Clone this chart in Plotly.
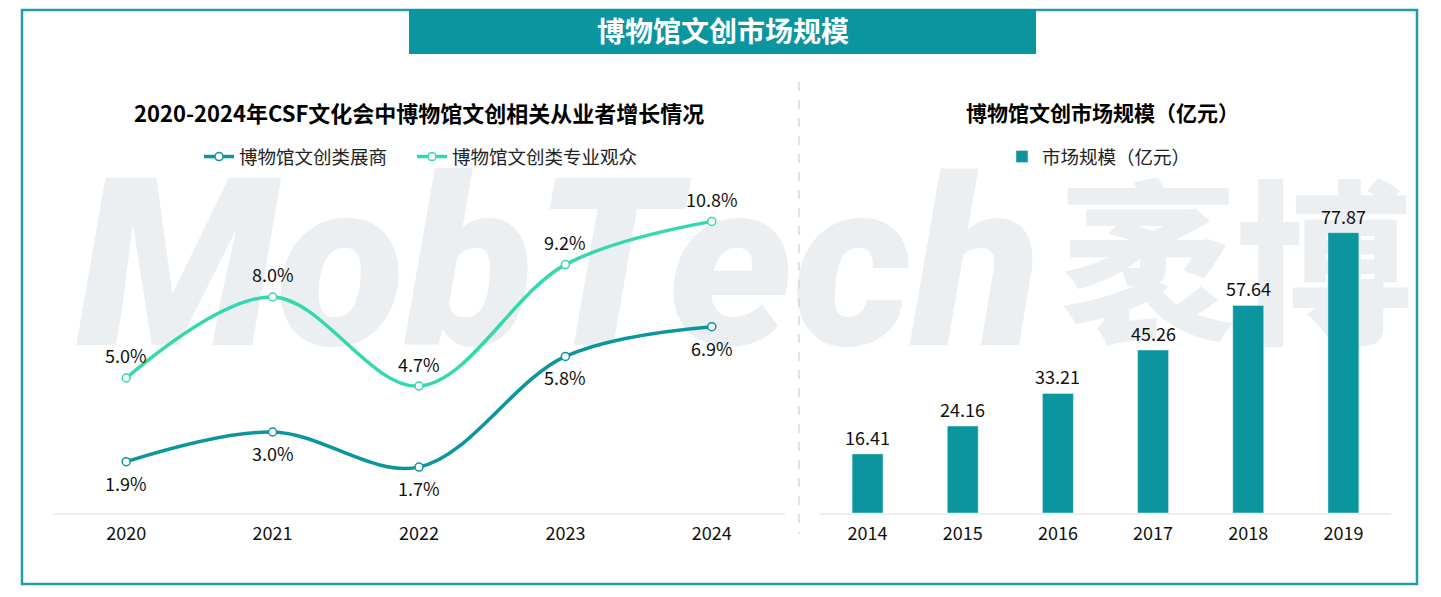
import plotly.graph_objects as go

W = 1441
H = 597

years_left = ["2020", "2021", "2022", "2023", "2024"]
exhibitors = [1.9, 3.0, 1.7, 5.8, 6.9]
visitors = [5.0, 8.0, 4.7, 9.2, 10.8]

years_right = ["2014", "2015", "2016", "2017", "2018", "2019"]
market_size = [16.41, 24.16, 33.21, 45.26, 57.64, 77.87]

TEAL = "#0b959e"
GREEN = "#33d9ae"
FONT = "Noto Sans CJK SC"
TEXT = "#111111"


def px(x):
    return x / W


def py(y):
    return 1 - y / H


fig = go.Figure()

# watermark sits on the first subplot so the charts are drawn over it
fig.add_trace(go.Scatter(
    x=[76], y=[286], mode="text", text=["MobTech"], textposition="middle right",
    textfont=dict(family="Roboto", size=236, color="#eceff2", weight=900, style="italic"),
    xaxis="x", yaxis="y", showlegend=False, hoverinfo="skip", cliponaxis=False,
))
fig.add_trace(go.Scatter(
    x=[1060], y=[286], mode="text", text=["袤博"], textposition="middle right",
    textfont=dict(family=FONT, size=176, color="#eceff2", weight=900),
    xaxis="x", yaxis="y", showlegend=False, hoverinfo="skip", cliponaxis=False,
))

fig.add_trace(go.Scatter(
    x=years_left, y=exhibitors, name="博物馆文创类展商", mode="lines+markers",
    line=dict(color=TEAL, width=3.5, shape="spline", smoothing=1.0),
    marker=dict(size=8, color="white", line=dict(color=TEAL, width=1.5)),
    xaxis="x2", yaxis="y2", legend="legend", legendwidth=168,
))
fig.add_trace(go.Scatter(
    x=years_left, y=visitors, name="博物馆文创类专业观众", mode="lines+markers",
    line=dict(color=GREEN, width=3.5, shape="spline", smoothing=1.0),
    marker=dict(size=8, color="white", line=dict(color=GREEN, width=1.5)),
    xaxis="x2", yaxis="y2", legend="legend",
))
fig.add_trace(go.Bar(
    x=years_right, y=market_size, name="市场规模（亿元）", marker=dict(color=TEAL),
    width=0.325, xaxis="x3", yaxis="y3", legend="legend2",
))

# numeric strings on a category axis get read as positions, so annotate by index
for i, v in enumerate(visitors):
    fig.add_annotation(x=i, y=v, xref="x2", yref="y2", text=f"{v:.1f}%", showarrow=False,
                       yshift=22.5, font=dict(family=FONT, size=18, color=TEXT))
for i, v in enumerate(exhibitors):
    fig.add_annotation(x=i, y=v, xref="x2", yref="y2", text=f"{v:.1f}%", showarrow=False,
                       yshift=-21, font=dict(family=FONT, size=18, color=TEXT))
for i, v in enumerate(market_size):
    fig.add_annotation(x=i, y=v, xref="x3", yref="y3", text=f"{v:.2f}", showarrow=False,
                       yshift=17, font=dict(family=FONT, size=18, color=TEXT))

# frame, title band, divider
fig.add_shape(type="rect", xref="paper", yref="paper", x0=px(22), x1=px(1417), y0=py(10), y1=py(584),
              line=dict(color="#1f9ea4", width=2.5), fillcolor="rgba(0,0,0,0)")
fig.add_shape(type="rect", xref="paper", yref="paper", x0=px(409), x1=px(1036), y0=py(9), y1=py(54),
              line=dict(width=0), fillcolor=TEAL)
fig.add_shape(type="line", xref="paper", yref="paper", x0=px(799), x1=px(799), y0=py(82), y1=py(534),
              line=dict(color="#d9d9d9", width=1.5, dash="dash"))

heads = [
    (723, 30, "<b>博物馆文创市场规模</b>", 28, "white"),
    (419, 112, "<b>2020-2024年CSF文化会中博物馆文创相关从业者增长情况</b>", 22, "#000000"),
    (1102, 112, "<b>博物馆文创市场规模（亿元）</b>", 21, "#000000"),
]
for hx, hy, txt, size, col in heads:
    fig.add_annotation(xref="paper", yref="paper", x=px(hx), y=py(hy), xanchor="center", yanchor="middle",
                       text=txt, showarrow=False, font=dict(family=FONT, size=size, color=col))

hidden = dict(visible=False, fixedrange=True)
axis_x = dict(type="category", showgrid=False, zeroline=False, showline=True, linecolor="#eeeeee", linewidth=1.5,
              ticks="", ticklabelstandoff=4, tickfont=dict(family=FONT, size=18, color=TEXT), fixedrange=True)
axis_y = dict(visible=False, fixedrange=True, showgrid=False, zeroline=False)

fig.update_layout(
    width=W, height=H, margin=dict(l=0, r=0, t=0, b=0),
    paper_bgcolor="white", plot_bgcolor="rgba(0,0,0,0)",
    hovermode=False, bargap=0.5,
    xaxis=dict(domain=[0, 1], range=[0, W], **hidden),
    yaxis=dict(domain=[0, 1], range=[H, 0], **hidden),
    xaxis2=dict(domain=[px(53), px(785)], range=[-0.5, 4.5], anchor="y2", **axis_x),
    yaxis2=dict(domain=[py(513), py(189)], range=[0, 12], anchor="x2", **axis_y),
    xaxis3=dict(domain=[px(820), px(1391)], range=[-0.5, 5.5], anchor="y3", **axis_x),
    yaxis3=dict(domain=[py(513), py(189)], range=[0, 90], anchor="x3", **axis_y),
    legend=dict(orientation="h", x=px(199), xanchor="left", y=py(157), yanchor="middle",
                font=dict(family=FONT, size=18.5, color="#222222"), bgcolor="rgba(0,0,0,0)", itemwidth=30),
    legend2=dict(orientation="h", x=px(1002), xanchor="left", y=py(157), yanchor="middle",
                 font=dict(family=FONT, size=18.5, color="#222222"), bgcolor="rgba(0,0,0,0)", itemwidth=30),
)

fig.write_html("out.html", config=dict(displayModeBar=False), post_script="document.body.style.margin='0';")
